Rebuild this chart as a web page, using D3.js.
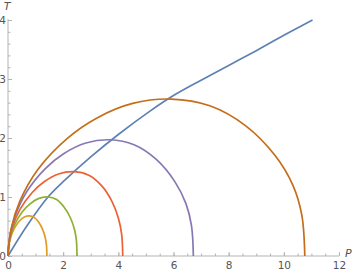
<!DOCTYPE html>
<html>
<head>
<meta charset="utf-8">
<script src="https://cdn.jsdelivr.net/npm/d3@7"></script>
<style>
  body { margin: 0; background: #fff; }
  text { font-family: "DejaVu Sans", sans-serif; }
</style>
</head>
<body>
<div id="chart"></div>
<script>
// curve data
const blueP = [0, 0.7, 1.45, 2.07, 3, 4, 5.16, 6, 7, 8, 9, 10, 11.04];
const blueT = [0, 0.52, 1.0, 1.29, 1.68, 2.06, 2.46, 2.72, 2.98, 3.23, 3.48, 3.74, 4.0];

const yellowP = [0, 0.014, 0.056, 0.141, 0.282, 0.423, 0.592, 0.776, 0.959, 1.128, 1.269, 1.354, 1.396, 1.41];
const yellowT = [0, 0.116, 0.238, 0.374, 0.51, 0.598, 0.661, 0.68, 0.651, 0.565, 0.435, 0.306, 0.177, 0];

const greenP = [0, 0.025, 0.1, 0.26, 0.52, 0.79, 1.1, 1.45, 1.76, 2.03, 2.27, 2.41, 2.48, 2.5];
const greenT = [0, 0.17, 0.35, 0.55, 0.75, 0.88, 0.972, 1.0, 0.957, 0.831, 0.64, 0.45, 0.26, 0];

const redP = [0, 0.042, 0.17, 0.43, 0.87, 1.31, 1.83, 2.4, 2.93, 3.4, 3.78, 4.0, 4.12, 4.16];
const redT = [0, 0.243, 0.5, 0.787, 1.073, 1.258, 1.39, 1.43, 1.369, 1.188, 0.915, 0.644, 0.372, 0];

const purpleP = [0, 0.067, 0.269, 0.672, 1.344, 2.016, 2.822, 3.696, 4.57, 5.376, 6.048, 6.451, 6.653, 6.72];
const purpleT = [0, 0.335, 0.69, 1.084, 1.478, 1.734, 1.915, 1.97, 1.885, 1.637, 1.261, 0.887, 0.512, 0];

const orangeP = [0, 0.108, 0.43, 1.076, 2.152, 3.228, 4.519, 5.918, 7.317, 8.608, 9.684, 10.33, 10.652, 10.76];
const orangeT = [0, 0.452, 0.931, 1.463, 1.995, 2.341, 2.586, 2.66, 2.546, 2.21, 1.702, 1.197, 0.692, 0];

const xMajor = [0, 2, 4, 6, 8, 10, 12];
const yMajor = [0, 1, 2, 3, 4];

const series = [
  {P: blueP, T: blueT, color: "#5E81B5"},
  {P: yellowP, T: yellowT, color: "#E19C24"},
  {P: greenP, T: greenT, color: "#8FB032"},
  {P: redP, T: redT, color: "#EB6235"},
  {P: purpleP, T: purpleT, color: "#8778B3"},
  {P: orangeP, T: orangeT, color: "#C56E1A"}
];

const W = 354, H = 273;
const margin = {top: 20, right: 15, bottom: 17, left: 8};

const x = d3.scaleLinear().domain([0, 12]).range([margin.left, W - margin.right]);
const y = d3.scaleLinear().domain([0, 4]).range([H - margin.bottom, margin.top]);

const svg = d3.select("#chart").append("svg")
  .attr("width", W)
  .attr("height", H);

const axisColor = "#b3b3b3";
const labelColor = "#555";

// x axis, ticks pointing up into the plot
const xAxis = svg.append("g")
  .attr("transform", `translate(0,${y(0)})`)
  .call(d3.axisBottom(x).tickValues(xMajor).tickSize(-4).tickPadding(6).tickFormat(d3.format("d")));
svg.append("g")
  .attr("transform", `translate(0,${y(0)})`)
  .call(d3.axisBottom(x).tickValues(d3.range(0, 12.01, 0.5)).tickSize(-2.5).tickFormat(""))
  .call(g => g.select(".domain").remove());

// y axis, ticks pointing right
const yAxis = svg.append("g")
  .attr("transform", `translate(${x(0)},0)`)
  .call(d3.axisLeft(y).tickValues(yMajor).tickSize(-4).tickPadding(2).tickFormat(d3.format("d")));
svg.append("g")
  .attr("transform", `translate(${x(0)},0)`)
  .call(d3.axisLeft(y).tickValues(d3.range(0, 4.01, 0.2)).tickSize(-2.5).tickFormat(""))
  .call(g => g.select(".domain").remove());

svg.selectAll(".tick line").attr("stroke", axisColor);
svg.selectAll(".tick text").attr("fill", labelColor).attr("font-size", 10.5);

// plain axis lines without end caps
xAxis.select(".domain").remove();
yAxis.select(".domain").remove();
svg.append("line")
  .attr("x1", x(0)).attr("x2", x(12))
  .attr("y1", y(0)).attr("y2", y(0))
  .attr("stroke", axisColor);
svg.append("line")
  .attr("x1", x(0)).attr("x2", x(0))
  .attr("y1", y(0)).attr("y2", y(4) - 1)
  .attr("stroke", axisColor);

const line = d3.line()
  .x(d => x(d[0]))
  .y(d => y(d[1]))
  .curve(d3.curveCatmullRom.alpha(0.5));

svg.append("g").selectAll("path")
  .data(series)
  .enter().append("path")
  .attr("d", s => line(s.P.map((p, i) => [p, s.T[i]])))
  .attr("fill", "none")
  .attr("stroke", s => s.color)
  .attr("stroke-width", 1.7);

// axis labels
svg.append("text")
  .attr("x", x(0) - 1).attr("y", margin.top - 10)
  .attr("text-anchor", "middle")
  .attr("font-size", 11).attr("font-style", "italic")
  .attr("fill", labelColor)
  .text("T");
svg.append("text")
  .attr("x", x(12) + 6).attr("y", y(0) + 1)
  .attr("font-size", 11).attr("font-style", "italic")
  .attr("fill", labelColor)
  .text("P");
</script>
</body>
</html>
